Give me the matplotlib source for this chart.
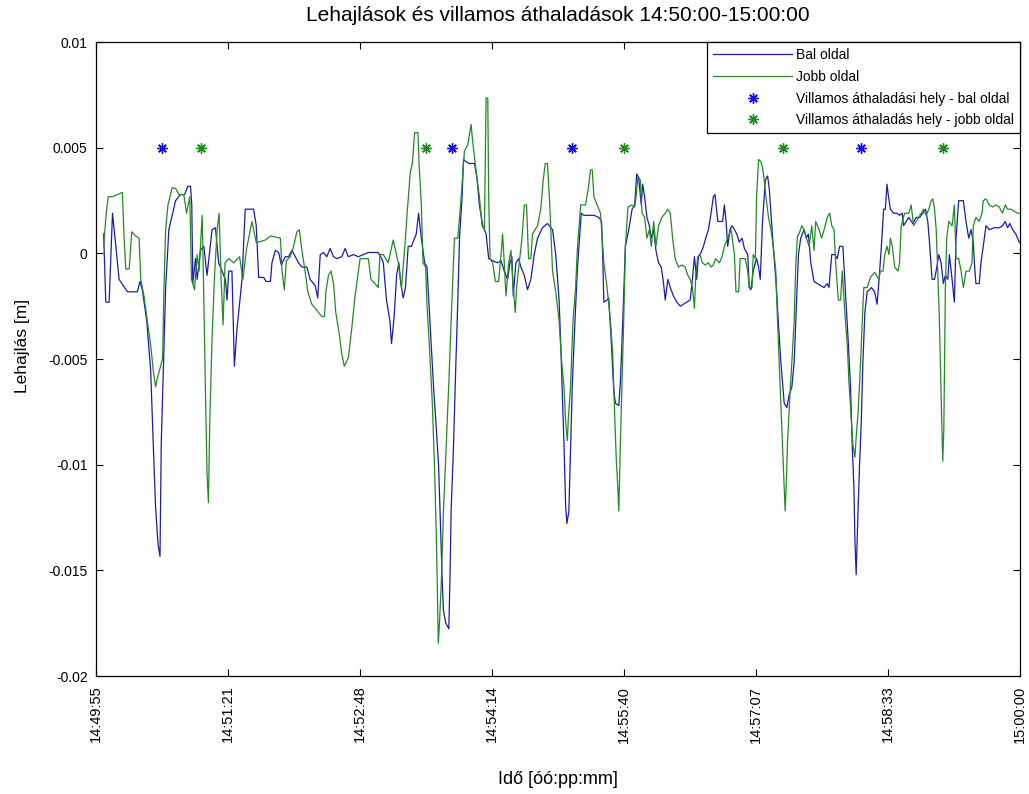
import numpy as np
import matplotlib
matplotlib.use('Agg')
import matplotlib.pyplot as plt

# time in seconds from 14:49:55, deflection in mm
t_bal = [5.0, 6.4, 8.6, 10.8, 13.0, 15.1, 20.6, 27.1, 28.8, 30.3, 33.2, 35.8, 37.5, 39.0, 40.6, 41.9, 42.7, 44.0,
         45.6, 47.7, 52.1, 55.3, 58.0, 60.1, 61.9, 62.7, 63.4, 65.1, 66.2, 68.4, 70.6, 72.7, 76.0, 78.2, 80.3, 82.5,
         84.7, 85.8, 86.9, 89.0, 90.6, 92.3, 95.6, 97.7, 103.2, 104.9,
         106.5, 109.8, 111.3, 114.2, 115.2, 117.4, 119.6, 121.3, 123.9, 126.1, 128.3, 130.5, 132.6, 134.8, 138.1,
         140.2, 143.5, 145.2, 146.8, 148.9, 151.1, 153.3, 155.5, 157.6, 160.9, 163.1, 165.2, 168.5, 171.8, 175.0,
         178.3, 182.6, 184.8, 187.0, 188.1, 190.2, 192.4, 193.5, 195.2, 196.8, 198.3, 199.6, 201.1, 202.6, 204.4,
         206.5, 209.7, 211.2, 213.0, 215.2, 216.7, 218.0, 219.5, 221.0, 222.8, 224.3, 225.6, 226.7, 227.5, 228.9,
         231.0, 231.9, 232.5, 234.1, 235.4, 236.9, 238.0, 239.7, 240.6, 242.3, 244.5, 247.8, 249.3, 251.0, 253.2,
         255.4, 257.1, 259.7, 263.0, 265.2, 267.3, 269.5, 271.0, 272.3, 273.2, 274.9, 276.7, 278.2, 280.4, 282.5,
         284.7, 286.9, 289.1, 292.3, 295.6, 298.9, 301.0, 303.2, 304.3,
         306.4, 307.5, 308.3, 309.6, 310.7, 311.8, 313.6, 315.1, 316.2, 317.7, 319.4, 322.7, 326.0, 329.2, 331.0,
         331.8, 332.5, 334.6, 335.7, 337.5, 339.0, 340.1, 342.3, 343.3, 344.9, 346.6, 348.8, 351.0, 352.7, 354.0,
         355.3, 357.0, 357.9, 359.2, 360.7, 362.3, 363.6, 365.1, 366.6, 368.3, 370.1, 371.6, 372.7, 374.4, 376.0,
         378.1, 380.3, 382.5, 384.6, 386.8, 389.0, 390.5, 391.8, 393.3, 394.4, 396.2, 397.7, 399.2, 401.0, 402.7,
         404.2, 405.3,
         407.1, 410.3, 411.4, 412.5, 413.6, 415.1, 416.4, 418.0, 419.5, 421.2, 423.0, 424.5, 426.7, 427.7, 428.8,
         430.3, 431.7, 432.5, 433.8, 434.9, 436.4, 438.2, 439.7, 440.8, 441.9, 443.4, 445.1, 446.7, 448.4, 450.6,
         452.3, 453.8, 455.6, 457.1, 458.2, 459.9, 461.4, 463.6, 465.1, 466.4, 468.0, 470.1, 472.3, 474.5, 476.7,
         478.8, 479.9, 481.7, 483.8, 485.3, 486.9, 489.0, 490.8, 492.5, 494.0, 495.1, 496.2, 496.9, 497.7, 498.6,
         499.9, 501.0, 502.1, 503.4, 504.9,
         507.7, 509.8, 511.4, 512.7, 514.2, 515.7, 516.8, 517.9, 518.7, 520.1, 522.2, 524.4, 526.1, 527.8, 528.7,
         530.5, 532.2, 534.8, 537.0, 539.2, 541.4, 543.1, 544.6, 545.7, 547.4, 549.0, 550.5, 551.8, 553.3, 554.8,
         556.1, 557.7, 558.7, 560.5, 562.0, 563.1, 564.8, 567.9, 569.6, 571.4, 572.9, 574.4, 575.1, 576.1, 578.3,
         579.4, 580.9, 582.7, 584.8, 588.1, 591.4, 593.5, 595.3, 596.8, 598.3, 600.1, 602.2, 604.4, 605.0]
bal_mm = [0.92, -2.31, -2.31, 1.90, 0.33, -1.23, -1.82, -1.82, -1.33, -1.72, -3.19, -5.54, -9.06, -12.0, -13.76,
          -14.34, -9.06, -5.73, -1.62, 1.12, 2.49, 2.78, 2.78, 3.17, 3.17, 2.29, -1.43, -0.25, -1.23, 0.14, 0.33,
          -1.04, 1.12, 1.21, -0.45, -0.84, -1.23, -2.21, -0.84, -0.84, -5.34, -3.58, -1.23, 2.09, 2.09, 1.31,
          -1.14, -1.14, -1.33, -1.33, -0.45, 0.14, 0.04, -0.55, -0.16, -0.16, 0.14, -0.16, -0.45, -0.65, -0.65,
          -1.23, -1.53, -2.11, -0.06, 0.04, -0.16, 0.23, -0.16, -0.25, -0.16, 0.23, -0.16, -0.06, -0.16, -0.06,
          0.04, 0.04, 0.04, -0.25, -0.45, -2.21, -3.19, -4.27, -2.99, -1.04, -0.45, -1.43, -2.11, -1.62, 0.33,
          0.33, 0.92, 1.90, 0.72, -0.45, -0.65, -2.41, -4.36, -6.32, -8.28, -10.04, -12.97, -15.52, -16.89, -17.48,
          -17.77, -14.93, -12.19, -9.06, -5.73, -2.21, 0.72, 2.68, 4.44, 4.34, 4.25, 4.25, 3.66, 2.29, 1.31,
          0.92, -0.25, -0.35, -0.45, -0.35, -0.84, -1.23, -0.45, -0.16, -2.02, -0.45, -0.25, -0.65, -1.04, -1.72,
          -1.23, -0.06, 0.72, 1.21, 1.41, 1.12, -0.06, -2.21, -4.36,
          -9.06, -12.0, -12.78, -12.2, -9.26, -6.32, -3.19, -0.84, 0.33, 1.90, 1.80, 1.80, 1.80, 1.70, 1.51,
          -0.25, -2.31, -2.21, -2.11, -4.36, -6.52, -7.10, -7.20, -6.13, -3.19, 0.33, 1.12, 2.09, 2.29, 3.76,
          3.56, 2.29, 3.27, 2.68, 1.70, 1.31, 0.72, 1.12, 0.14, -0.45, -0.65, -1.43, -2.21, -1.23, -1.62,
          -2.02, -2.31, -2.50, -2.41, -2.31, -2.21, -1.23, -0.16, -1.23, -0.16, 0.04, 0.33, 0.72, 1.12, 1.90,
          2.68, 2.78,
          1.51, 1.51, 2.29, 1.51, 0.33, 1.12, 1.31, 1.12, 0.92, 0.53, 0.72, 0.23, -0.06, -1.62, -1.72,
          -0.84, -0.45, -0.25, -0.65, -1.23, 1.51, 3.46, 3.66, 3.07, 1.90, 0.33, -1.23, -3.19, -5.15, -7.10,
          -7.30, -6.71, -6.32, -5.15, -3.19, -0.06, 0.72, 1.12, 0.72, 0.92, -0.45, -1.33, -1.43, -1.53, -1.62,
          -1.43, -1.62, -0.06, -0.06, -0.25, 0.33, 0.33, -2.02, -4.17, -6.32, -9.06, -11.02, -13.6, -15.2, -12.97,
          -10.04, -8.08, -5.15, -2.80, -1.82,
          -1.62, -1.82, -2.41, -1.23, 0.33, 2.09, 2.09, 3.27, 2.78, 2.09, 1.90, 1.90, 1.80, 1.90, 1.31,
          1.51, 1.70, 1.41, 1.70, 1.70, 1.90, 2.09, 1.51, 0.53, -1.23, -1.23, -0.65, -0.06, -0.45, -1.43,
          -1.04, -1.23, -0.06, -1.23, -2.31, 0.72, 2.49, 2.49, 1.51, 0.72, 1.12, 0.53, -0.45, -1.43, -1.43,
          -0.45, 0.33, 1.31, 1.12, 1.21, 1.21, 1.31, 1.51, 1.21, 1.41, 1.12, 0.92, 0.53, 0.53]

t_jobb = [5.0, 6.7, 8.0, 10.8, 14.0, 17.3, 18.4, 19.5, 21.7, 23.4, 26.0, 28.2, 29.3, 31.4, 33.6, 35.8, 37.5, 39.0,
          40.1, 42.3, 43.6, 44.5, 45.6, 47.1, 49.9, 52.1, 54.3, 57.5, 59.3, 61.4, 62.5, 64.5, 66.2, 67.5, 69.5,
          70.6, 71.7, 72.7, 73.6, 74.5, 76.0, 77.5, 79.3, 80.6, 81.9, 83.2, 84.5, 86.9, 90.1, 94.0, 96.2, 98.4,
          102.1, 104.9,
          106.1, 110.9, 114.2, 120.7, 121.8, 123.3, 124.6, 127.2, 129.4, 131.5, 133.1, 134.8, 136.5, 138.7, 141.3,
          144.6, 147.9, 149.6, 150.5, 152.2, 153.9, 155.5, 157.0, 159.2, 160.9, 162.6, 165.2, 167.4, 169.6, 171.8,
          172.9, 178.3, 180.0, 182.6, 184.8, 185.9, 188.1, 191.3, 194.6, 197.9, 200.0, 202.2, 203.9,
          205.8, 207.1, 208.6, 210.8, 211.5, 213.0, 214.1, 215.8, 216.7, 218.4, 220.2, 221.7, 222.8, 223.4, 224.1,
          224.9, 226.0, 227.5, 229.3, 231.0, 232.5, 234.7, 236.9, 239.1, 241.2, 243.4, 245.6, 246.7, 248.9, 251.0,
          252.8, 254.3, 255.4, 256.5, 257.1, 258.0, 259.7, 261.5, 263.6, 265.2, 266.2, 267.3, 268.4, 270.2, 271.7,
          272.8, 274.5, 275.4, 277.1, 278.9, 280.4, 281.9, 283.2, 284.7, 285.8, 289.1, 291.2, 292.8, 294.1, 295.6,
          297.1, 298.9, 301.0, 303.2, 304.9,
          306.4, 307.5, 308.6, 309.2, 310.7, 312.3, 314.0, 315.1, 317.3, 320.5, 322.3, 323.8, 324.9, 326.0, 328.1,
          330.3, 331.4, 332.5, 334.6, 336.8, 338.3, 339.7, 340.7, 341.6, 342.3, 343.3, 344.4, 345.5, 346.6, 348.3,
          351.0, 352.7, 353.6, 354.9, 356.4, 357.5, 359.2, 360.7, 362.3, 363.6, 365.1, 366.6, 368.3, 370.5, 372.7,
          374.4, 376.0, 377.5, 379.2, 381.4, 383.6, 385.7, 387.5, 389.0, 390.5, 391.8, 392.7, 394.0, 395.5, 397.0,
          398.8, 401.0, 402.7, 404.2, 405.7,
          408.2, 409.9, 411.4, 413.6, 415.8, 418.0, 419.0, 420.8, 421.7, 425.1, 426.7, 427.7, 429.5, 430.3, 431.7,
          432.5, 433.8, 435.3, 436.4, 437.5, 438.6, 440.3, 441.9, 443.4, 445.1, 446.2, 447.3, 448.4, 449.5, 450.6,
          451.2, 452.1, 452.7, 454.3, 455.6, 457.1, 458.2, 459.3, 460.3, 462.1, 463.6, 465.1, 466.9, 468.6, 470.1,
          471.2, 473.4, 475.1, 476.7, 478.8, 480.3, 481.7, 483.2, 484.3, 486.0, 487.5, 488.6, 490.3, 491.9, 493.0,
          494.7, 495.6, 496.9, 497.7, 499.0, 500.6, 501.7, 502.7, 504.9,
          507.0, 509.8, 512.6, 513.5, 515.3, 516.4, 517.9, 519.2, 520.1, 521.4, 522.9, 525.1, 526.1, 527.2, 529.4,
          532.2, 533.7, 535.3, 537.0, 538.7, 540.3, 541.8, 543.5, 545.3, 546.8, 547.9, 549.0, 550.1, 551.1, 552.2,
          553.1, 553.7, 554.4, 555.1, 555.7, 556.1, 557.0, 558.3, 560.5, 562.0, 563.1, 564.8, 566.4, 567.9, 569.6,
          571.8, 573.5, 574.4, 576.1, 578.3, 580.1, 580.9, 582.7, 584.8, 587.0, 589.2, 591.4, 593.5, 595.3, 596.8,
          599.0, 601.1, 603.3, 605.0]
jobb_mm = [0.33, 1.90, 2.68, 2.68, 2.78, 2.88, 0.72, -0.74, -0.74, 1.02, 0.82, 0.72, -1.23, -2.02, -3.19, -4.36,
           -5.54, -6.32, -5.93, -5.34, -4.95, -1.62, 1.12, 2.29, 3.11, 3.07, 2.78, 2.78, 1.90, 2.68, -1.23, -1.72,
           -0.06, -0.84, 1.80, -2.21, -6.71, -10.43, -11.80, -7.89, -3.97, -1.23, 1.12, 1.90, -1.23, -3.39, -0.45,
           -0.25, -0.45, -0.16, -1.23, 0.14, 1.51, 0.53,
           0.53, 0.63, 0.82, 0.72, -0.84, -1.72, -0.35, -0.16, 0.33, 1.02, 1.12, 0.14, -0.65, -1.82, -2.41,
           -2.70, -2.99, -2.99, -1.82, -1.04, -0.84, -1.43, -2.80, -3.78, -4.76, -5.34, -4.95, -3.58, -2.02, -0.84,
           -0.25, -0.25, -1.23, -1.43, -1.62, -0.06, -0.06, -0.45, 0.63, -0.45, -1.62, 0.33, 2.09,
           3.85, 4.25, 5.71, 5.71, 4.25, 2.29, -0.45, -0.65, -2.41, -4.56, -7.10, -10.24, -13.36, -15.52, -18.45,
           -17.48, -15.7, -12.2, -9.06, -6.13, -3.19, 0.72, 0.72, 2.68, 4.83, 5.13, 6.10, 5.23, 3.85, 2.68,
           1.31, 1.12, 7.35, 7.35, 2.68, -0.25, -0.45, -1.33, -1.33, -0.06, 0.92, -0.45, -2.02, -0.45, 0.14,
           -1.23, -2.80, -1.62, -0.45, 0.72, 2.29, 2.29, -0.25, -0.25, 0.92, 1.31, 2.09, 3.46, 4.25, 4.25,
           2.29, -0.84, -1.82, -3.19, -5.15,
           -6.32, -8.0, -8.86, -7.89, -6.32, -3.19, -1.62, 0.14, 2.29, 2.29, 3.07, 3.95, 3.95, 2.68, 2.29,
           1.90, 0.72, -0.45, -1.62, -3.19, -4.76, -7.89, -9.84, -11.02, -12.19, -9.06, -6.13, -3.19, 0.33, 2.19,
           2.29, 2.19, 2.68, 3.66, 3.46, 1.90, 1.70, 0.72, 1.12, 0.33, 1.51, 0.33, 1.31, 1.70, 1.90,
           2.09, 1.90, 0.72, -0.25, -0.65, -0.55, -0.65, -1.04, -1.23, -1.62, -2.60, -1.04, -0.16, -0.06, -0.45,
           -0.55, -0.45, -0.65, -0.55, -0.25,
           -0.45, -0.16, 0.33, 0.72, 1.12, -0.06, -1.82, -1.82, -0.25, -0.25, -0.84, -1.62, -1.62, -0.06, -0.25,
           2.68, 4.44, 4.34, 4.05, 3.46, 2.68, 1.70, 1.12, 0.33, -0.84, -3.19, -5.15, -7.10, -9.06, -11.02,
           -12.19, -10.63, -9.06, -6.71, -5.15, -3.19, -0.45, 0.82, 0.92, 1.31, 1.12, 0.72, 0.33, 1.31, 0.14,
           1.51, 1.12, 0.72, 1.12, 1.70, 1.90, 1.31, 1.12, -0.45, -2.21, -2.21, -0.84, -2.80, -4.36, -6.13,
           -8.08, -9.06, -9.65, -8.7, -7.49, -5.15, -3.19, -1.62, -1.62,
           -1.14, -0.9, -1.23, -0.84, -0.84, -0.06, 0.33, -0.06, 0.72, 0.33, -0.65, -0.84, -0.45, 1.31, 1.90,
           1.90, 2.29, 1.31, 1.51, 1.70, 1.90, 2.09, 1.80, 2.09, 2.49, 2.58, 2.09, 1.12, -0.84, -3.19,
           -6.13, -7.89, -9.84, -8.28, -4.36, -1.62, 0.72, 1.51, 1.31, 2.29, -0.25, -0.25, -0.84, -1.62, -0.84,
           -0.84, -0.45, 1.31, 1.70, 1.51, 1.90, 2.49, 2.58, 2.29, 2.19, 2.29, 2.19, 1.90, 2.29, 2.09,
           2.09, 2.00, 1.90, 1.90]

# tram passing points (seconds from 14:49:55), drawn at 0.005 m
villamos_bal = [43.0, 233.2, 311.4, 500.6]
villamos_jobb = [69.0, 216.2, 345.5, 449.5, 554.4]
jelolo_szint = 0.005

xtick_labels = ['14:49:55', '14:51:21', '14:52:48', '14:54:14', '14:55:40', '14:57:07', '14:58:33', '15:00:00']
ytick_vals = [-0.02, -0.015, -0.01, -0.005, 0, 0.005, 0.01]
ytick_labels = ['-0.02', '-0.015', '-0.01', '-0.005', '0', '0.005', '0.01']

plt.rcParams['font.family'] = ['Liberation Sans', 'DejaVu Sans']

fig = plt.figure(figsize=(10.29, 7.94), dpi=100)
ax = fig.add_axes([0.0933, 0.1486, 0.8980, 0.7985])

kek = '#1c1ca8'
zold = '#238a23'
ax.plot(t_bal, np.array(bal_mm) * 1e-3, color=kek, lw=0.9, label='Bal oldal')
ax.plot(t_jobb, np.array(jobb_mm) * 1e-3, color=zold, lw=0.9, label='Jobb oldal')
csillag = (8, 2, 0)
ax.plot(villamos_bal, [jelolo_szint] * len(villamos_bal), ls='none', marker=csillag, ms=7.5, mew=1.0,
        color='#1010e0', label='Villamos áthaladási hely - bal oldal')
ax.plot(villamos_jobb, [jelolo_szint] * len(villamos_jobb), ls='none', marker=csillag, ms=7.5, mew=1.0,
        color='#1e8c1e', label='Villamos áthaladás hely - jobb oldal')

ax.set_xlim(0, 605)
ax.set_ylim(-0.02, 0.01)
ax.set_xticks(np.linspace(0, 605, len(xtick_labels)))
ax.set_xticklabels(xtick_labels, rotation=90, fontsize=10.5)
ax.set_yticks(ytick_vals)
ax.set_yticklabels(ytick_labels, fontsize=10)
ax.tick_params(direction='in', top=True, right=True, length=5, width=0.8)
ax.tick_params(axis='x', pad=7)
ax.tick_params(axis='y', pad=6)
for s in ax.spines.values():
    s.set_linewidth(0.9)

ax.set_title('Lehajlások és villamos áthaladások 14:50:00-15:00:00', fontsize=15, pad=15)
ax.set_xlabel('Idő [óó:pp:mm]', fontsize=13, labelpad=20)
ax.set_ylabel('Lehajlás [m]', fontsize=12.5)
ax.yaxis.set_label_coords(-0.071, 0.52)

leg = ax.legend(loc='upper right', borderaxespad=0, fontsize=10, handlelength=5.7, handletextpad=0.25,
                labelspacing=0.55, fancybox=False, framealpha=1, edgecolor='black', borderpad=0.45)
leg.get_frame().set_linewidth(0.9)

plt.savefig('out.png', dpi=100)
